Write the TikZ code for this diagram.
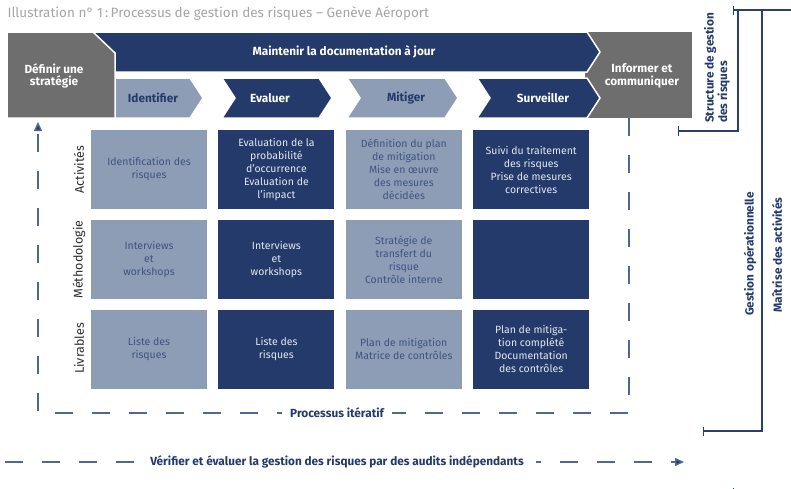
\documentclass[tikz,border=0pt]{standalone}
\usepackage{fontspec}
\setmainfont{Fira Sans}
\usetikzlibrary{arrows.meta, positioning}
\definecolor{navy}{RGB}{35,58,107}
\definecolor{steel}{RGB}{142,157,182}
\definecolor{slate}{RGB}{110,110,110}
\definecolor{inktext}{RGB}{62,84,128}
\definecolor{paletext}{RGB}{228,232,240}
\definecolor{dashblue}{RGB}{82,102,142}
\definecolor{titlegray}{RGB}{165,165,165}
\definecolor{rowtext}{RGB}{45,45,45}
\definecolor{bracketblue}{RGB}{43,63,112}
\tikzstyle{cell} = [minimum width=116pt, minimum height=79pt, inner sep=0pt, align=center, font=\fontsize{10.5}{13}\selectfont]
\tikzstyle{lightbox} = [cell, fill=steel, text=inktext]
\tikzstyle{darkbox} = [cell, fill=navy, text=paletext]
\tikzstyle{arrowedge} = [draw=white, line width=1.5pt]
\tikzstyle{headlabel} = [font=\bfseries\fontsize{11.8}{12.5}\selectfont, align=center]
\tikzstyle{rowlabel} = [rotate=90, text=rowtext, font=\fontsize{12.5}{13}\selectfont]
\tikzstyle{loopdash} = [dashblue, line width=1.5pt, dash pattern=on 18pt off 19pt]
\tikzstyle{loopnote} = [fill=white, text=navy, inner sep=8pt, font=\bfseries\fontsize{11.8}{12.5}\selectfont]
\tikzstyle{bracket} = [bracketblue, line width=1.3pt]
\tikzstyle{sidelabel} = [rotate=90, text=navy, align=left, inner sep=0pt, font=\bfseries\fontsize{11.8}{13.5}\selectfont]

\begin{document}
\begin{tikzpicture}[x=1pt, y=-1pt]
  \useasboundingbox (0,0) rectangle (791,488);
  \clip (0,0) rectangle (791,488);

  % title
  \node[anchor=west, text=titlegray, font=\fontsize{13.5}{15}\selectfont] (title) at (4,14)
    {Illustration n° 1\,:\,Processus de gestion des risques – Genève Aéroport};

  % grey block at the end, behind the arrow tips
  \fill[slate] (585,32) rectangle (692,118);
  % top bar
  \fill[navy, arrowedge] (60,32) -- (587,32) -- (600,52) -- (587,72) -- (60,72) -- cycle;
  % phases
  \fill[steel, arrowedge] (60,78) -- (190,78) -- (203,98) -- (190,118) -- (60,118) -- cycle;
  \fill[navy, arrowedge] (222,78) -- (319,78) -- (332,98) -- (319,118) -- (222,118) -- (235,98) -- cycle;
  \fill[steel, arrowedge] (347,78) -- (445,78) -- (458,98) -- (445,118) -- (347,118) -- (360,98) -- cycle;
  \fill[navy, arrowedge] (477,78) -- (587,78) -- (600,98) -- (587,118) -- (477,118) -- (490,98) -- cycle;
  % grey block at the start
  \fill[slate, arrowedge] (7,32) -- (93,32) -- (115,53) -- (115,118) -- (7,118) -- cycle;

  \node[headlabel, text=white] (maintain) at (344,52) {Maintenir la documentation à jour};
  \node[headlabel, text=white] (define) at (54,76) {Définir une\\stratégie};
  \node[headlabel, text=white] (inform) at (642,76) {Informer et\\communiquer};
  \node[headlabel, text=navy] (identify) at (153,98) {Identifier};
  \node[headlabel, text=white] (assess) at (270,98) {Evaluer};
  \node[headlabel, text=navy] (mitigate) at (406,98) {Mitiger};
  \node[headlabel, text=white] (monitor) at (543,98) {Surveiller};

  % grid
  \node[lightbox] (act1) at (149,169.5) {Identification des\\risques};
  \node[darkbox, right=11pt of act1] (act2) {Evaluation de la\\probabilité\\d’occurrence\\Evaluation de\\l’impact};
  \node[lightbox, right=11pt of act2] (act3) {Définition du plan\\de mitigation\\Mise en œuvre\\des mesures\\décidées};
  \node[darkbox, right=11pt of act3] (act4) {Suivi du traitement\\des risques\\Prise de mesures\\correctives};

  \node[lightbox, below=11pt of act1] (meth1) {Interviews\\et\\workshops};
  \node[darkbox, below=11pt of act2] (meth2) {Interviews\\et\\workshops};
  \node[lightbox, below=11pt of act3] (meth3) {Stratégie de\\transfert du\\risque\\Contrôle interne};
  \node[darkbox, below=11pt of act4] (meth4) {};

  \node[lightbox, below=10pt of meth1] (deliv1) {Liste des\\risques};
  \node[darkbox, below=10pt of meth2] (deliv2) {Liste des\\risques};
  \node[lightbox, below=10pt of meth3] (deliv3) {Plan de mitigation\\Matrice de contrôles};
  \node[darkbox, below=10pt of meth4] (deliv4) {Plan de mitiga-\\tion complété\\Documentation\\des contrôles};

  \node[rowlabel] (rowact) at (79,169.5) {Activités};
  \node[rowlabel] (rowmeth) at (79,259.5) {Méthodologie};
  \node[rowlabel] (rowdeliv) at (79,348.5) {Livrables};

  % iterative loop
  \coordinate (looptop) at (629,118);
  \coordinate (loopright) at (629,413);
  \coordinate (loopleft) at (38,413);
  \coordinate (looparrow) at (38,122);
  \draw[loopdash, -{Triangle[length=9pt, width=8pt, fill=navy]}] (looptop) -- (loopright) -- (loopleft) -- (looparrow);
  \node[loopnote] (iterative) at (337,413) {Processus itératif};

  % audits
  \coordinate (auditstart) at (5,462);
  \coordinate (auditend) at (684,462);
  \draw[loopdash, -{Triangle[length=9pt, width=8pt, fill=navy]}] (auditstart) -- (auditend);
  \node[loopnote, inner xsep=12pt] (audit) at (337,462) {Vérifier et évaluer la gestion des risques par des audits indépendants};

  % brackets on the right
  \draw[bracket, {Bar[width=9pt]}-{Bar[width=10pt]}] (733,10) -- (806,10) -- (806,493) -- (733,493);
  \draw[bracket, -{Bar[width=10pt]}] (738,10) -- (738,131) -- (678,131);
  \draw[bracket, -{Bar[width=9pt]}] (762,10) -- (762,431) -- (703,431);
  \node[sidelabel] (structure) at (717,68) {Structure de gestion\\des risques};
  \node[sidelabel] (operational) at (750,254) {Gestion opérationnelle};
  \node[sidelabel] (activities) at (777,255) {Maîtrise des activités};
\end{tikzpicture}
\end{document}
